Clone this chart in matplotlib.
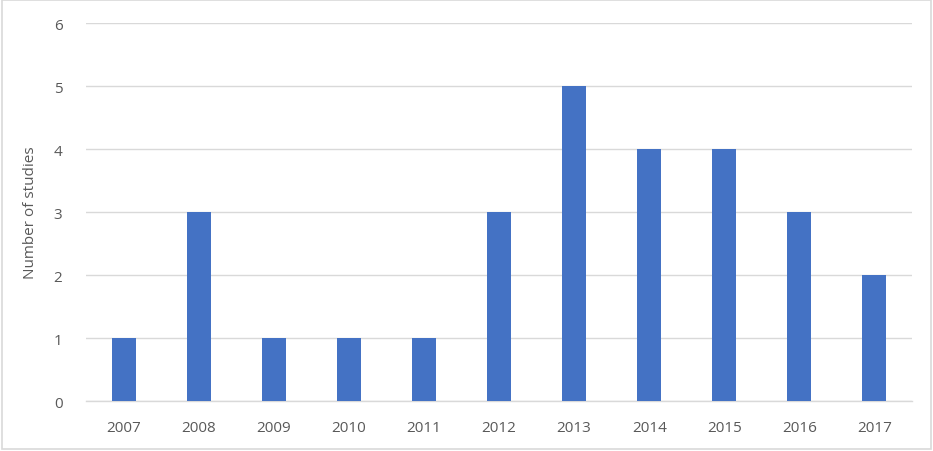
import matplotlib
matplotlib.use('Agg')
import matplotlib.pyplot as plt
from matplotlib.patches import Rectangle

years = ['2007', '2008', '2009', '2010', '2011', '2012', '2013', '2014', '2015', '2016', '2017']
studies = [1, 3, 1, 1, 1, 3, 5, 4, 4, 3, 2]
y_ticks = [0, 1, 2, 3, 4, 5, 6]

plt.rcParams['font.family'] = ['Open Sans', 'DejaVu Sans']

fig = plt.figure(figsize=(9.33, 4.52), dpi=100)
ax = fig.add_axes([0.0922, 0.1106, 0.8853, 0.8363])

x = range(len(years))
ax.bar(x, studies, width=0.32, color='#4472c4', zorder=3)

ax.set_xlim(-0.5, len(years) - 0.5)
ax.set_ylim(0, 6)
ax.set_yticks(y_ticks)
ax.set_xticks(list(x))
ax.set_xticklabels(years)
ax.grid(axis='y', color='#d9d9d9', linewidth=1.0, zorder=0)
ax.set_axisbelow(True)

for s in ['top', 'right', 'left']:
    ax.spines[s].set_visible(False)
ax.spines['bottom'].set_color('#d9d9d9')
ax.spines['bottom'].set_linewidth(1.0)

ax.tick_params(axis='both', length=0, labelsize=11, colors='#595959')
ax.tick_params(axis='y', pad=17)
ax.tick_params(axis='x', pad=14)
ax.set_ylabel('Number of studies', fontsize=11, color='#595959', labelpad=11)

fig.patches.append(Rectangle((0.002, 0.004), 0.996, 0.993, transform=fig.transFigure,
                             fill=False, edgecolor='#d9d9d9', linewidth=1.2))

fig.savefig('out.png', dpi=100)
